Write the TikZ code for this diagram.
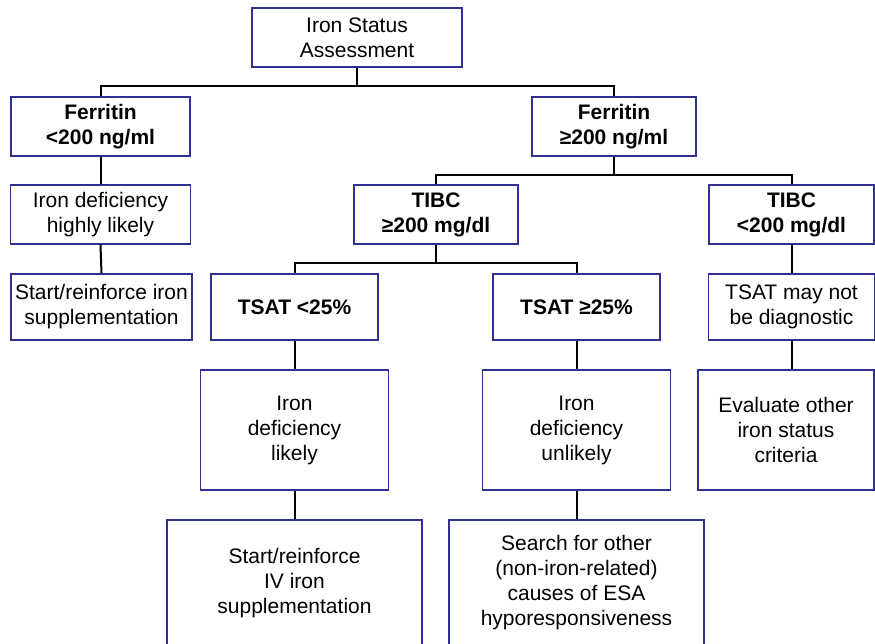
\documentclass[tikz,border=0pt]{standalone}
\usepackage{fontspec}
\setmainfont{Liberation Sans}
\definecolor{boxblue}{RGB}{46,49,146}
\begin{document}
\begin{tikzpicture}[x=1pt,y=-1pt,
  box/.style={draw=boxblue,line width=1.3pt,fill=white,align=center,inner sep=0pt,
    font=\fontsize{21}{25}\selectfont},
  bbox/.style={box,font=\fontsize{21}{25}\selectfont\bfseries},
  conn/.style={draw=black,line width=2pt}]
\useasboundingbox (0,0) rectangle (875,643);
% nodes
\node[box,minimum width=210pt,minimum height=59pt] (top) at (357,37.5) {Iron Status\\Assessment};
\node[bbox,minimum width=179pt,minimum height=59pt] (f1) at (100.5,126.5) {Ferritin\\<200 ng/ml};
\node[bbox,minimum width=164pt,minimum height=59pt] (f2) at (614,126.5) {Ferritin\\≥200 ng/ml};
\node[box,minimum width=180pt,minimum height=59pt] (idh) at (100.5,214.5) {Iron deficiency\\highly likely};
\node[box,minimum width=181pt,minimum height=66pt] (sri) at (101.5,307) {Start/reinforce iron\\supplementation};
\node[bbox,minimum width=164pt,minimum height=59pt] (tibc1) at (436,214.5) {TIBC\\≥200 mg/dl};
\node[bbox,minimum width=165pt,minimum height=59pt] (tibc2) at (791.5,214.5) {TIBC\\<200 mg/dl};
\node[bbox,minimum width=167pt,minimum height=66pt] (tsat1) at (294.5,307) {TSAT <25\%};
\node[bbox,minimum width=167pt,minimum height=66pt] (tsat2) at (576.5,307) {TSAT ≥25\%};
\node[box,minimum width=166pt,minimum height=66pt] (tsatm) at (791.5,307) {TSAT may not\\be diagnostic};
\node[box,minimum width=188pt,minimum height=120pt] (idl) at (294.5,430) {Iron\\deficiency\\likely};
\node[box,minimum width=188pt,minimum height=120pt] (idu) at (576.5,430) {Iron\\deficiency\\unlikely};
\node[box,minimum width=176pt,minimum height=120pt] (eval) at (786,430) {Evaluate other\\iron status\\criteria};
\node[box,minimum width=255pt,minimum height=126pt] (sriv) at (294.5,583) {Start/reinforce\\IV iron\\supplementation};
\node[box,minimum width=255pt,minimum height=126pt] (srch) at (576.5,583) {Search for other\\(non-iron-related)\\causes of ESA\\hyporesponsiveness};
% connectors
\draw[conn] (top.south) -- ++(0,18) -| (f1.north);
\draw[conn] (top.south) -- ++(0,18) -| (f2.north);
\draw[conn] (f1.south) -- (idh.north);
\draw[conn] (idh.south) -- (sri.north);
\draw[conn] (f2.south) -- ++(0,18) -| (tibc1.north);
\draw[conn] (f2.south) -- ++(0,18) -| (tibc2.north);
\draw[conn] (tibc1.south) -- ++(0,18) -| (tsat1.north);
\draw[conn] (tibc1.south) -- ++(0,18) -| (tsat2.north);
\draw[conn] (tibc2.south) -- (tsatm.north);
\draw[conn] (tsatm.south) -- (tsatm.south |- eval.north);
\draw[conn] (tsat1.south) -- (idl.north);
\draw[conn] (idl.south) -- (sriv.north);
\draw[conn] (tsat2.south) -- (idu.north);
\draw[conn] (idu.south) -- (srch.north);
\end{tikzpicture}
\end{document}
